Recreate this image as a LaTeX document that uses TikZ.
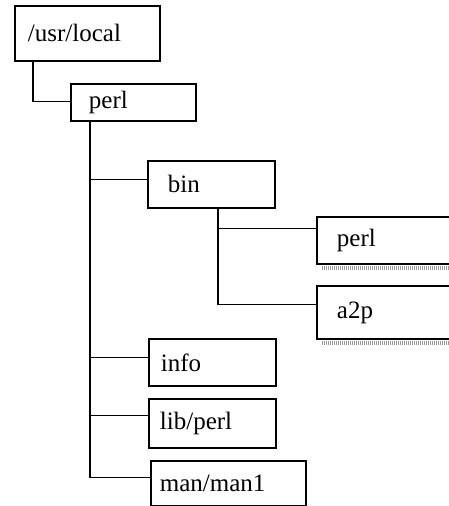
\documentclass[tikz,border=0pt]{standalone}
\usepackage{fontspec}
\setmainfont{Liberation Serif}
\usetikzlibrary{shapes.geometric, arrows}
\tikzstyle{dirbox} = [rectangle, draw=black, line width=1.8pt, anchor=north west, align=left, inner ysep=1pt, font=\fontsize{25}{28}\selectfont]
\tikzstyle{link} = [line width=1.8pt]
\tikzstyle{dropline} = [gray!80, line width=3.5pt, dash pattern=on 1pt off 1pt]

\begin{document}
\begin{tikzpicture}[x=1pt, y=-1pt]
\useasboundingbox (0,0) rectangle (448,506);
\node (usrlocal) [dirbox, minimum width=145pt, minimum height=55pt, inner xsep=13pt, text width=119pt] at (14,5)   {/usr/local};
\node (perl)     [dirbox, minimum width=125pt, minimum height=37pt, inner xsep=18pt, text width=89pt]  at (70,83)  {perl};
\node (bin)      [dirbox, minimum width=127pt, minimum height=47pt, inner xsep=20pt, text width=87pt]  at (147,160) {bin};
\node (perlbin)  [dirbox, minimum width=150pt, minimum height=47pt, inner xsep=20pt, text width=110pt] at (316,216) {perl};	%runs off the right edge
\node (atwop)    [dirbox, minimum width=150pt, minimum height=53pt, inner xsep=20pt, text width=110pt] at (316,285) {a2p};
\node (info)     [dirbox, minimum width=127pt, minimum height=47pt, inner xsep=12pt, text width=103pt] at (148,338) {info};
\node (libperl)  [dirbox, minimum width=127pt, minimum height=49pt, inner xsep=11pt, text width=105pt] at (148,398) {lib/perl};
\node (manman)   [dirbox, minimum width=155pt, minimum height=45pt, inner xsep=9pt,  text width=137pt] at (150,460) {man/man1};
\draw [dropline] ([xshift=6pt,yshift=-3pt]perlbin.south west) -- ([yshift=-3pt]perlbin.south east);
\draw [dropline] ([xshift=6pt,yshift=-3pt]atwop.south west) -- ([yshift=-3pt]atwop.south east);
\draw [link] ([xshift=19pt]usrlocal.south west) |- ([yshift=1pt]perl.west);
\draw [link] ([xshift=20pt]perl.south west) |- ([yshift=5pt]bin.west);
\draw [link] ([xshift=20pt]perl.south west) |- ([yshift=5pt]info.west);
\draw [link] ([xshift=20pt]perl.south west) |- ([yshift=8pt]libperl.west);
\draw [link] ([xshift=20pt]perl.south west) |- ([yshift=6pt]manman.west);
\draw [link] ([xshift=71pt]bin.south west) |- ([yshift=12pt]perlbin.west);
\draw [link] ([xshift=71pt]bin.south west) |- ([yshift=8pt]atwop.west);
\end{tikzpicture}
\end{document}
